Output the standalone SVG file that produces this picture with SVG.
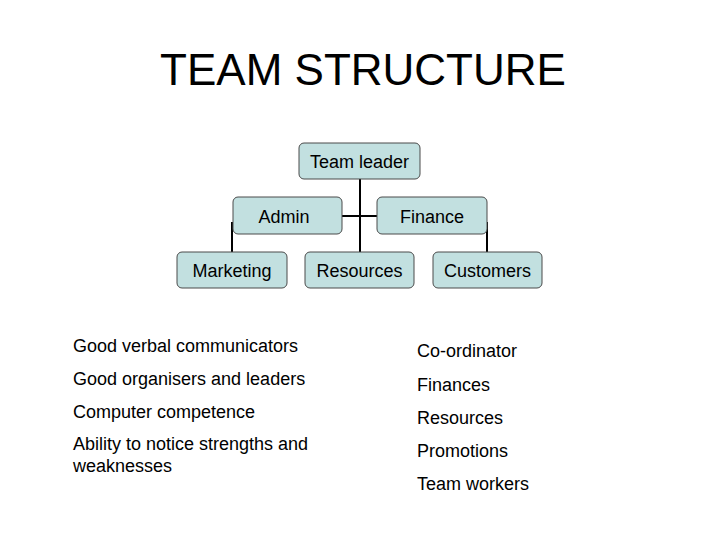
<svg xmlns="http://www.w3.org/2000/svg" width="728" height="546" viewBox="0 0 728 546">
<style>
.box{fill:#C2E0E0;stroke:#4a4a4a;stroke-width:1}
.lbl{font-family:"Liberation Sans",Arial,sans-serif;font-size:18px;fill:#000;text-anchor:middle}
.txt{font-family:"Liberation Sans",Arial,sans-serif;font-size:18px;fill:#000}
.con{stroke:#000;stroke-width:2;fill:none}
</style>
<rect width="728" height="546" fill="#fff"/>
<text x="363" y="85" font-family="Liberation Sans,Arial,sans-serif" font-size="44" text-anchor="middle" fill="#000">TEAM STRUCTURE</text>
<g id="connectors">
<line class="con" x1="360" y1="179" x2="360" y2="252"/>
<line class="con" x1="342" y1="216" x2="377" y2="216"/>
<line class="con" x1="232" y1="222" x2="232" y2="252"/>
<line class="con" x1="487" y1="222" x2="487" y2="252"/>
</g>
<g id="team-leader"><rect class="box" x="299" y="143" width="121" height="36" rx="5"/><text class="lbl" x="359.5" y="168">Team leader</text></g>
<g id="admin"><rect class="box" x="233" y="197" width="109" height="37" rx="5"/><text class="lbl" x="284" y="223">Admin</text></g>
<g id="finance"><rect class="box" x="377" y="197" width="110" height="37" rx="5"/><text class="lbl" x="432" y="223">Finance</text></g>
<g id="marketing"><rect class="box" x="177" y="252" width="110" height="36" rx="5"/><text class="lbl" x="232" y="277">Marketing</text></g>
<g id="resources"><rect class="box" x="305" y="252" width="109" height="36" rx="5"/><text class="lbl" x="359.5" y="277">Resources</text></g>
<g id="customers"><rect class="box" x="433" y="252" width="109" height="36" rx="5"/><text class="lbl" x="487.5" y="277">Customers</text></g>
<g id="left-list">
<text class="txt" x="73" y="352">Good verbal communicators</text>
<text class="txt" x="73" y="385">Good organisers and leaders</text>
<text class="txt" x="73" y="418">Computer competence</text>
<text class="txt" x="73" y="450">Ability to notice strengths and</text>
<text class="txt" x="73" y="472">weaknesses</text>
</g>
<g id="right-list">
<text class="txt" x="417" y="357">Co-ordinator</text>
<text class="txt" x="417" y="391">Finances</text>
<text class="txt" x="417" y="424">Resources</text>
<text class="txt" x="417" y="457">Promotions</text>
<text class="txt" x="417" y="490">Team workers</text>
</g>
</svg>
